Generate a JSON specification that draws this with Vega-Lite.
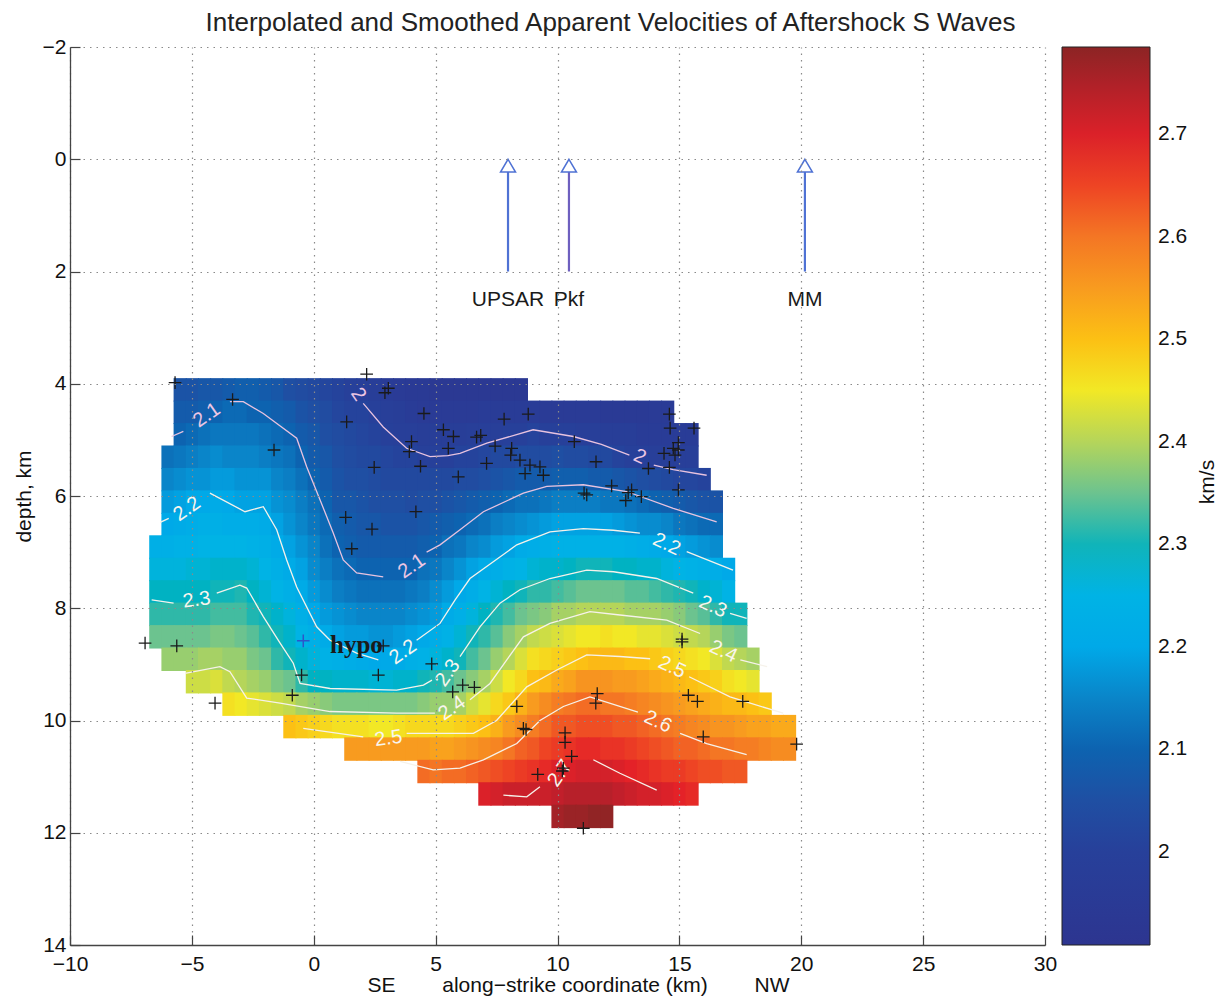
{
"$schema":"https://vega.github.io/schema/vega-lite/v6.json",
"width":975,"height":898,
"autosize":{"type":"none"},
"padding":{"left":70,"top":47,"right":178,"bottom":57},
"background":"white",
"title":{"text":"Interpolated and Smoothed Apparent Velocities of Aftershock S Waves","fontSize":26,"font":"Liberation Sans","fontWeight":"normal","color":"#222","anchor":"middle","dx":53,"offset":0},
"config":{"font":"Liberation Sans","view":{"stroke":null}},
"datasets":{
"cells":[
{"x":-5.5,"y":4.1,"v":2.06},{"x":-5,"y":4.1,"v":2.06},{"x":-4.5,"y":4.1,"v":2.07},{"x":-4,"y":4.1,"v":2.07},{"x":-3.5,"y":4.1,"v":2.08},{"x":-3,"y":4.1,"v":2.09},{"x":-2.5,"y":4.1,"v":2.09},{"x":-2,"y":4.1,"v":2.08},{"x":-1.5,"y":4.1,"v":2.07},{"x":-1,"y":4.1,"v":2.05},{"x":-0.5,"y":4.1,"v":2.04},{"x":0,"y":4.1,"v":2.03},{"x":0.5,"y":4.1,"v":2.02},{"x":1,"y":4.1,"v":2.01},{"x":1.5,"y":4.1,"v":2.0},{"x":2,"y":4.1,"v":1.99},{"x":2.5,"y":4.1,"v":1.98},{"x":3,"y":4.1,"v":1.97},{"x":3.5,"y":4.1,"v":1.96},{"x":4,"y":4.1,"v":1.95},{"x":4.5,"y":4.1,"v":1.95},{"x":5,"y":4.1,"v":1.94},{"x":5.5,"y":4.1,"v":1.94},{"x":6,"y":4.1,"v":1.94},{"x":6.5,"y":4.1,"v":1.94},{"x":7,"y":4.1,"v":1.94},{"x":7.5,"y":4.1,"v":1.94},{"x":8,"y":4.1,"v":1.94},{"x":8.5,"y":4.1,"v":1.94},
{"x":-5.5,"y":4.5,"v":2.08},{"x":-5,"y":4.5,"v":2.08},{"x":-4.5,"y":4.5,"v":2.09},{"x":-4,"y":4.5,"v":2.1},{"x":-3.5,"y":4.5,"v":2.11},{"x":-3,"y":4.5,"v":2.11},{"x":-2.5,"y":4.5,"v":2.1},{"x":-2,"y":4.5,"v":2.1},{"x":-1.5,"y":4.5,"v":2.09},{"x":-1,"y":4.5,"v":2.08},{"x":-0.5,"y":4.5,"v":2.06},{"x":0,"y":4.5,"v":2.05},{"x":0.5,"y":4.5,"v":2.04},{"x":1,"y":4.5,"v":2.02},{"x":1.5,"y":4.5,"v":2.01},{"x":2,"y":4.5,"v":2.01},{"x":2.5,"y":4.5,"v":2.0},{"x":3,"y":4.5,"v":1.99},{"x":3.5,"y":4.5,"v":1.98},{"x":4,"y":4.5,"v":1.97},{"x":4.5,"y":4.5,"v":1.96},{"x":5,"y":4.5,"v":1.96},{"x":5.5,"y":4.5,"v":1.96},{"x":6,"y":4.5,"v":1.96},{"x":6.5,"y":4.5,"v":1.96},{"x":7,"y":4.5,"v":1.97},{"x":7.5,"y":4.5,"v":1.97},{"x":8,"y":4.5,"v":1.97},{"x":8.5,"y":4.5,"v":1.97},{"x":9,"y":4.5,"v":1.97},{"x":9.5,"y":4.5,"v":1.96},{"x":10,"y":4.5,"v":1.96},{"x":10.5,"y":4.5,"v":1.96},{"x":11,"y":4.5,"v":1.96},{"x":11.5,"y":4.5,"v":1.96},{"x":12,"y":4.5,"v":1.95},{"x":12.5,"y":4.5,"v":1.95},{"x":13,"y":4.5,"v":1.95},{"x":13.5,"y":4.5,"v":1.95},{"x":14,"y":4.5,"v":1.96},{"x":14.5,"y":4.5,"v":1.96},
{"x":-5.5,"y":4.9,"v":2.1},{"x":-5,"y":4.9,"v":2.11},{"x":-4.5,"y":4.9,"v":2.12},{"x":-4,"y":4.9,"v":2.13},{"x":-3.5,"y":4.9,"v":2.13},{"x":-3,"y":4.9,"v":2.13},{"x":-2.5,"y":4.9,"v":2.13},{"x":-2,"y":4.9,"v":2.12},{"x":-1.5,"y":4.9,"v":2.11},{"x":-1,"y":4.9,"v":2.1},{"x":-0.5,"y":4.9,"v":2.08},{"x":0,"y":4.9,"v":2.07},{"x":0.5,"y":4.9,"v":2.05},{"x":1,"y":4.9,"v":2.04},{"x":1.5,"y":4.9,"v":2.03},{"x":2,"y":4.9,"v":2.02},{"x":2.5,"y":4.9,"v":2.01},{"x":3,"y":4.9,"v":2.0},{"x":3.5,"y":4.9,"v":1.99},{"x":4,"y":4.9,"v":1.99},{"x":4.5,"y":4.9,"v":1.98},{"x":5,"y":4.9,"v":1.98},{"x":5.5,"y":4.9,"v":1.98},{"x":6,"y":4.9,"v":1.98},{"x":6.5,"y":4.9,"v":1.99},{"x":7,"y":4.9,"v":1.99},{"x":7.5,"y":4.9,"v":1.99},{"x":8,"y":4.9,"v":2.0},{"x":8.5,"y":4.9,"v":2.0},{"x":9,"y":4.9,"v":2.01},{"x":9.5,"y":4.9,"v":2.0},{"x":10,"y":4.9,"v":2.0},{"x":10.5,"y":4.9,"v":2.0},{"x":11,"y":4.9,"v":1.99},{"x":11.5,"y":4.9,"v":1.99},{"x":12,"y":4.9,"v":1.98},{"x":12.5,"y":4.9,"v":1.98},{"x":13,"y":4.9,"v":1.98},{"x":13.5,"y":4.9,"v":1.97},{"x":14,"y":4.9,"v":1.97},{"x":14.5,"y":4.9,"v":1.97},{"x":15,"y":4.9,"v":1.97},{"x":15.5,"y":4.9,"v":1.97},
{"x":-6,"y":5.3,"v":2.12},{"x":-5.5,"y":5.3,"v":2.13},{"x":-5,"y":5.3,"v":2.14},{"x":-4.5,"y":5.3,"v":2.15},{"x":-4,"y":5.3,"v":2.16},{"x":-3.5,"y":5.3,"v":2.15},{"x":-3,"y":5.3,"v":2.15},{"x":-2.5,"y":5.3,"v":2.15},{"x":-2,"y":5.3,"v":2.14},{"x":-1.5,"y":5.3,"v":2.13},{"x":-1,"y":5.3,"v":2.12},{"x":-0.5,"y":5.3,"v":2.1},{"x":0,"y":5.3,"v":2.08},{"x":0.5,"y":5.3,"v":2.07},{"x":1,"y":5.3,"v":2.05},{"x":1.5,"y":5.3,"v":2.04},{"x":2,"y":5.3,"v":2.03},{"x":2.5,"y":5.3,"v":2.03},{"x":3,"y":5.3,"v":2.02},{"x":3.5,"y":5.3,"v":2.01},{"x":4,"y":5.3,"v":2.01},{"x":4.5,"y":5.3,"v":2.0},{"x":5,"y":5.3,"v":2.0},{"x":5.5,"y":5.3,"v":2.0},{"x":6,"y":5.3,"v":2.01},{"x":6.5,"y":5.3,"v":2.01},{"x":7,"y":5.3,"v":2.02},{"x":7.5,"y":5.3,"v":2.03},{"x":8,"y":5.3,"v":2.03},{"x":8.5,"y":5.3,"v":2.04},{"x":9,"y":5.3,"v":2.04},{"x":9.5,"y":5.3,"v":2.04},{"x":10,"y":5.3,"v":2.05},{"x":10.5,"y":5.3,"v":2.04},{"x":11,"y":5.3,"v":2.04},{"x":11.5,"y":5.3,"v":2.03},{"x":12,"y":5.3,"v":2.03},{"x":12.5,"y":5.3,"v":2.01},{"x":13,"y":5.3,"v":2.0},{"x":13.5,"y":5.3,"v":2.0},{"x":14,"y":5.3,"v":1.99},{"x":14.5,"y":5.3,"v":1.99},{"x":15,"y":5.3,"v":1.99},{"x":15.5,"y":5.3,"v":1.99},
{"x":-6,"y":5.7,"v":2.15},{"x":-5.5,"y":5.7,"v":2.16},{"x":-5,"y":5.7,"v":2.17},{"x":-4.5,"y":5.7,"v":2.17},{"x":-4,"y":5.7,"v":2.18},{"x":-3.5,"y":5.7,"v":2.18},{"x":-3,"y":5.7,"v":2.17},{"x":-2.5,"y":5.7,"v":2.17},{"x":-2,"y":5.7,"v":2.17},{"x":-1.5,"y":5.7,"v":2.15},{"x":-1,"y":5.7,"v":2.14},{"x":-0.5,"y":5.7,"v":2.12},{"x":0,"y":5.7,"v":2.1},{"x":0.5,"y":5.7,"v":2.08},{"x":1,"y":5.7,"v":2.06},{"x":1.5,"y":5.7,"v":2.05},{"x":2,"y":5.7,"v":2.05},{"x":2.5,"y":5.7,"v":2.04},{"x":3,"y":5.7,"v":2.03},{"x":3.5,"y":5.7,"v":2.03},{"x":4,"y":5.7,"v":2.03},{"x":4.5,"y":5.7,"v":2.03},{"x":5,"y":5.7,"v":2.03},{"x":5.5,"y":5.7,"v":2.03},{"x":6,"y":5.7,"v":2.04},{"x":6.5,"y":5.7,"v":2.04},{"x":7,"y":5.7,"v":2.05},{"x":7.5,"y":5.7,"v":2.06},{"x":8,"y":5.7,"v":2.07},{"x":8.5,"y":5.7,"v":2.08},{"x":9,"y":5.7,"v":2.08},{"x":9.5,"y":5.7,"v":2.08},{"x":10,"y":5.7,"v":2.09},{"x":10.5,"y":5.7,"v":2.09},{"x":11,"y":5.7,"v":2.09},{"x":11.5,"y":5.7,"v":2.08},{"x":12,"y":5.7,"v":2.08},{"x":12.5,"y":5.7,"v":2.07},{"x":13,"y":5.7,"v":2.06},{"x":13.5,"y":5.7,"v":2.05},{"x":14,"y":5.7,"v":2.04},{"x":14.5,"y":5.7,"v":2.03},{"x":15,"y":5.7,"v":2.02},{"x":15.5,"y":5.7,"v":2.02},{"x":16,"y":5.7,"v":2.01},
{"x":-6,"y":6.1,"v":2.18},{"x":-5.5,"y":6.1,"v":2.19},{"x":-5,"y":6.1,"v":2.2},{"x":-4.5,"y":6.1,"v":2.2},{"x":-4,"y":6.1,"v":2.21},{"x":-3.5,"y":6.1,"v":2.2},{"x":-3,"y":6.1,"v":2.19},{"x":-2.5,"y":6.1,"v":2.19},{"x":-2,"y":6.1,"v":2.19},{"x":-1.5,"y":6.1,"v":2.17},{"x":-1,"y":6.1,"v":2.16},{"x":-0.5,"y":6.1,"v":2.14},{"x":0,"y":6.1,"v":2.12},{"x":0.5,"y":6.1,"v":2.1},{"x":1,"y":6.1,"v":2.07},{"x":1.5,"y":6.1,"v":2.07},{"x":2,"y":6.1,"v":2.06},{"x":2.5,"y":6.1,"v":2.05},{"x":3,"y":6.1,"v":2.05},{"x":3.5,"y":6.1,"v":2.05},{"x":4,"y":6.1,"v":2.04},{"x":4.5,"y":6.1,"v":2.05},{"x":5,"y":6.1,"v":2.05},{"x":5.5,"y":6.1,"v":2.06},{"x":6,"y":6.1,"v":2.07},{"x":6.5,"y":6.1,"v":2.08},{"x":7,"y":6.1,"v":2.09},{"x":7.5,"y":6.1,"v":2.1},{"x":8,"y":6.1,"v":2.11},{"x":8.5,"y":6.1,"v":2.12},{"x":9,"y":6.1,"v":2.12},{"x":9.5,"y":6.1,"v":2.13},{"x":10,"y":6.1,"v":2.14},{"x":10.5,"y":6.1,"v":2.14},{"x":11,"y":6.1,"v":2.14},{"x":11.5,"y":6.1,"v":2.14},{"x":12,"y":6.1,"v":2.13},{"x":12.5,"y":6.1,"v":2.13},{"x":13,"y":6.1,"v":2.12},{"x":13.5,"y":6.1,"v":2.11},{"x":14,"y":6.1,"v":2.1},{"x":14.5,"y":6.1,"v":2.09},{"x":15,"y":6.1,"v":2.08},{"x":15.5,"y":6.1,"v":2.07},{"x":16,"y":6.1,"v":2.06},{"x":16.5,"y":6.1,"v":2.06},
{"x":-6,"y":6.5,"v":2.2},{"x":-5.5,"y":6.5,"v":2.21},{"x":-5,"y":6.5,"v":2.22},{"x":-4.5,"y":6.5,"v":2.23},{"x":-4,"y":6.5,"v":2.23},{"x":-3.5,"y":6.5,"v":2.22},{"x":-3,"y":6.5,"v":2.22},{"x":-2.5,"y":6.5,"v":2.22},{"x":-2,"y":6.5,"v":2.21},{"x":-1.5,"y":6.5,"v":2.19},{"x":-1,"y":6.5,"v":2.17},{"x":-0.5,"y":6.5,"v":2.15},{"x":0,"y":6.5,"v":2.13},{"x":0.5,"y":6.5,"v":2.11},{"x":1,"y":6.5,"v":2.09},{"x":1.5,"y":6.5,"v":2.08},{"x":2,"y":6.5,"v":2.07},{"x":2.5,"y":6.5,"v":2.07},{"x":3,"y":6.5,"v":2.06},{"x":3.5,"y":6.5,"v":2.06},{"x":4,"y":6.5,"v":2.06},{"x":4.5,"y":6.5,"v":2.07},{"x":5,"y":6.5,"v":2.08},{"x":5.5,"y":6.5,"v":2.09},{"x":6,"y":6.5,"v":2.1},{"x":6.5,"y":6.5,"v":2.11},{"x":7,"y":6.5,"v":2.12},{"x":7.5,"y":6.5,"v":2.14},{"x":8,"y":6.5,"v":2.15},{"x":8.5,"y":6.5,"v":2.16},{"x":9,"y":6.5,"v":2.17},{"x":9.5,"y":6.5,"v":2.18},{"x":10,"y":6.5,"v":2.19},{"x":10.5,"y":6.5,"v":2.19},{"x":11,"y":6.5,"v":2.19},{"x":11.5,"y":6.5,"v":2.19},{"x":12,"y":6.5,"v":2.19},{"x":12.5,"y":6.5,"v":2.18},{"x":13,"y":6.5,"v":2.17},{"x":13.5,"y":6.5,"v":2.16},{"x":14,"y":6.5,"v":2.16},{"x":14.5,"y":6.5,"v":2.15},{"x":15,"y":6.5,"v":2.13},{"x":15.5,"y":6.5,"v":2.12},{"x":16,"y":6.5,"v":2.11},{"x":16.5,"y":6.5,"v":2.11},
{"x":-6.5,"y":6.9,"v":2.23},{"x":-6,"y":6.9,"v":2.23},{"x":-5.5,"y":6.9,"v":2.24},{"x":-5,"y":6.9,"v":2.24},{"x":-4.5,"y":6.9,"v":2.25},{"x":-4,"y":6.9,"v":2.25},{"x":-3.5,"y":6.9,"v":2.25},{"x":-3,"y":6.9,"v":2.25},{"x":-2.5,"y":6.9,"v":2.24},{"x":-2,"y":6.9,"v":2.23},{"x":-1.5,"y":6.9,"v":2.21},{"x":-1,"y":6.9,"v":2.19},{"x":-0.5,"y":6.9,"v":2.17},{"x":0,"y":6.9,"v":2.15},{"x":0.5,"y":6.9,"v":2.12},{"x":1,"y":6.9,"v":2.1},{"x":1.5,"y":6.9,"v":2.09},{"x":2,"y":6.9,"v":2.08},{"x":2.5,"y":6.9,"v":2.08},{"x":3,"y":6.9,"v":2.08},{"x":3.5,"y":6.9,"v":2.08},{"x":4,"y":6.9,"v":2.08},{"x":4.5,"y":6.9,"v":2.09},{"x":5,"y":6.9,"v":2.1},{"x":5.5,"y":6.9,"v":2.12},{"x":6,"y":6.9,"v":2.13},{"x":6.5,"y":6.9,"v":2.15},{"x":7,"y":6.9,"v":2.16},{"x":7.5,"y":6.9,"v":2.18},{"x":8,"y":6.9,"v":2.19},{"x":8.5,"y":6.9,"v":2.21},{"x":9,"y":6.9,"v":2.22},{"x":9.5,"y":6.9,"v":2.23},{"x":10,"y":6.9,"v":2.24},{"x":10.5,"y":6.9,"v":2.24},{"x":11,"y":6.9,"v":2.24},{"x":11.5,"y":6.9,"v":2.24},{"x":12,"y":6.9,"v":2.24},{"x":12.5,"y":6.9,"v":2.24},{"x":13,"y":6.9,"v":2.23},{"x":13.5,"y":6.9,"v":2.22},{"x":14,"y":6.9,"v":2.21},{"x":14.5,"y":6.9,"v":2.2},{"x":15,"y":6.9,"v":2.19},{"x":15.5,"y":6.9,"v":2.18},{"x":16,"y":6.9,"v":2.17},{"x":16.5,"y":6.9,"v":2.16},
{"x":-6.5,"y":7.3,"v":2.26},{"x":-6,"y":7.3,"v":2.26},{"x":-5.5,"y":7.3,"v":2.26},{"x":-5,"y":7.3,"v":2.27},{"x":-4.5,"y":7.3,"v":2.27},{"x":-4,"y":7.3,"v":2.28},{"x":-3.5,"y":7.3,"v":2.28},{"x":-3,"y":7.3,"v":2.28},{"x":-2.5,"y":7.3,"v":2.27},{"x":-2,"y":7.3,"v":2.25},{"x":-1.5,"y":7.3,"v":2.23},{"x":-1,"y":7.3,"v":2.21},{"x":-0.5,"y":7.3,"v":2.19},{"x":0,"y":7.3,"v":2.16},{"x":0.5,"y":7.3,"v":2.14},{"x":1,"y":7.3,"v":2.12},{"x":1.5,"y":7.3,"v":2.11},{"x":2,"y":7.3,"v":2.1},{"x":2.5,"y":7.3,"v":2.1},{"x":3,"y":7.3,"v":2.1},{"x":3.5,"y":7.3,"v":2.1},{"x":4,"y":7.3,"v":2.1},{"x":4.5,"y":7.3,"v":2.12},{"x":5,"y":7.3,"v":2.13},{"x":5.5,"y":7.3,"v":2.15},{"x":6,"y":7.3,"v":2.17},{"x":6.5,"y":7.3,"v":2.19},{"x":7,"y":7.3,"v":2.21},{"x":7.5,"y":7.3,"v":2.22},{"x":8,"y":7.3,"v":2.24},{"x":8.5,"y":7.3,"v":2.25},{"x":9,"y":7.3,"v":2.27},{"x":9.5,"y":7.3,"v":2.28},{"x":10,"y":7.3,"v":2.28},{"x":10.5,"y":7.3,"v":2.29},{"x":11,"y":7.3,"v":2.3},{"x":11.5,"y":7.3,"v":2.3},{"x":12,"y":7.3,"v":2.3},{"x":12.5,"y":7.3,"v":2.29},{"x":13,"y":7.3,"v":2.29},{"x":13.5,"y":7.3,"v":2.28},{"x":14,"y":7.3,"v":2.28},{"x":14.5,"y":7.3,"v":2.26},{"x":15,"y":7.3,"v":2.25},{"x":15.5,"y":7.3,"v":2.24},{"x":16,"y":7.3,"v":2.23},{"x":16.5,"y":7.3,"v":2.22},{"x":17,"y":7.3,"v":2.2},
{"x":-6.5,"y":7.7,"v":2.29},{"x":-6,"y":7.7,"v":2.29},{"x":-5.5,"y":7.7,"v":2.29},{"x":-5,"y":7.7,"v":2.29},{"x":-4.5,"y":7.7,"v":2.29},{"x":-4,"y":7.7,"v":2.3},{"x":-3.5,"y":7.7,"v":2.3},{"x":-3,"y":7.7,"v":2.31},{"x":-2.5,"y":7.7,"v":2.29},{"x":-2,"y":7.7,"v":2.27},{"x":-1.5,"y":7.7,"v":2.25},{"x":-1,"y":7.7,"v":2.23},{"x":-0.5,"y":7.7,"v":2.21},{"x":0,"y":7.7,"v":2.18},{"x":0.5,"y":7.7,"v":2.16},{"x":1,"y":7.7,"v":2.14},{"x":1.5,"y":7.7,"v":2.13},{"x":2,"y":7.7,"v":2.12},{"x":2.5,"y":7.7,"v":2.12},{"x":3,"y":7.7,"v":2.12},{"x":3.5,"y":7.7,"v":2.12},{"x":4,"y":7.7,"v":2.13},{"x":4.5,"y":7.7,"v":2.14},{"x":5,"y":7.7,"v":2.16},{"x":5.5,"y":7.7,"v":2.18},{"x":6,"y":7.7,"v":2.2},{"x":6.5,"y":7.7,"v":2.22},{"x":7,"y":7.7,"v":2.25},{"x":7.5,"y":7.7,"v":2.27},{"x":8,"y":7.7,"v":2.29},{"x":8.5,"y":7.7,"v":2.3},{"x":9,"y":7.7,"v":2.32},{"x":9.5,"y":7.7,"v":2.32},{"x":10,"y":7.7,"v":2.33},{"x":10.5,"y":7.7,"v":2.34},{"x":11,"y":7.7,"v":2.35},{"x":11.5,"y":7.7,"v":2.35},{"x":12,"y":7.7,"v":2.35},{"x":12.5,"y":7.7,"v":2.35},{"x":13,"y":7.7,"v":2.34},{"x":13.5,"y":7.7,"v":2.34},{"x":14,"y":7.7,"v":2.33},{"x":14.5,"y":7.7,"v":2.32},{"x":15,"y":7.7,"v":2.31},{"x":15.5,"y":7.7,"v":2.3},{"x":16,"y":7.7,"v":2.28},{"x":16.5,"y":7.7,"v":2.27},{"x":17,"y":7.7,"v":2.25},
{"x":-6.5,"y":8.1,"v":2.32},{"x":-6,"y":8.1,"v":2.32},{"x":-5.5,"y":8.1,"v":2.32},{"x":-5,"y":8.1,"v":2.32},{"x":-4.5,"y":8.1,"v":2.32},{"x":-4,"y":8.1,"v":2.33},{"x":-3.5,"y":8.1,"v":2.33},{"x":-3,"y":8.1,"v":2.33},{"x":-2.5,"y":8.1,"v":2.31},{"x":-2,"y":8.1,"v":2.3},{"x":-1.5,"y":8.1,"v":2.28},{"x":-1,"y":8.1,"v":2.26},{"x":-0.5,"y":8.1,"v":2.23},{"x":0,"y":8.1,"v":2.2},{"x":0.5,"y":8.1,"v":2.18},{"x":1,"y":8.1,"v":2.17},{"x":1.5,"y":8.1,"v":2.16},{"x":2,"y":8.1,"v":2.15},{"x":2.5,"y":8.1,"v":2.15},{"x":3,"y":8.1,"v":2.15},{"x":3.5,"y":8.1,"v":2.15},{"x":4,"y":8.1,"v":2.16},{"x":4.5,"y":8.1,"v":2.17},{"x":5,"y":8.1,"v":2.18},{"x":5.5,"y":8.1,"v":2.21},{"x":6,"y":8.1,"v":2.23},{"x":6.5,"y":8.1,"v":2.26},{"x":7,"y":8.1,"v":2.29},{"x":7.5,"y":8.1,"v":2.31},{"x":8,"y":8.1,"v":2.33},{"x":8.5,"y":8.1,"v":2.35},{"x":9,"y":8.1,"v":2.36},{"x":9.5,"y":8.1,"v":2.37},{"x":10,"y":8.1,"v":2.39},{"x":10.5,"y":8.1,"v":2.39},{"x":11,"y":8.1,"v":2.4},{"x":11.5,"y":8.1,"v":2.4},{"x":12,"y":8.1,"v":2.4},{"x":12.5,"y":8.1,"v":2.4},{"x":13,"y":8.1,"v":2.39},{"x":13.5,"y":8.1,"v":2.39},{"x":14,"y":8.1,"v":2.39},{"x":14.5,"y":8.1,"v":2.38},{"x":15,"y":8.1,"v":2.37},{"x":15.5,"y":8.1,"v":2.35},{"x":16,"y":8.1,"v":2.34},{"x":16.5,"y":8.1,"v":2.32},{"x":17,"y":8.1,"v":2.3},{"x":17.5,"y":8.1,"v":2.3},
{"x":-6.5,"y":8.5,"v":2.35},{"x":-6,"y":8.5,"v":2.35},{"x":-5.5,"y":8.5,"v":2.35},{"x":-5,"y":8.5,"v":2.35},{"x":-4.5,"y":8.5,"v":2.35},{"x":-4,"y":8.5,"v":2.36},{"x":-3.5,"y":8.5,"v":2.36},{"x":-3,"y":8.5,"v":2.35},{"x":-2.5,"y":8.5,"v":2.34},{"x":-2,"y":8.5,"v":2.32},{"x":-1.5,"y":8.5,"v":2.3},{"x":-1,"y":8.5,"v":2.28},{"x":-0.5,"y":8.5,"v":2.25},{"x":0,"y":8.5,"v":2.23},{"x":0.5,"y":8.5,"v":2.21},{"x":1,"y":8.5,"v":2.19},{"x":1.5,"y":8.5,"v":2.18},{"x":2,"y":8.5,"v":2.18},{"x":2.5,"y":8.5,"v":2.17},{"x":3,"y":8.5,"v":2.17},{"x":3.5,"y":8.5,"v":2.18},{"x":4,"y":8.5,"v":2.19},{"x":4.5,"y":8.5,"v":2.2},{"x":5,"y":8.5,"v":2.22},{"x":5.5,"y":8.5,"v":2.24},{"x":6,"y":8.5,"v":2.27},{"x":6.5,"y":8.5,"v":2.3},{"x":7,"y":8.5,"v":2.32},{"x":7.5,"y":8.5,"v":2.34},{"x":8,"y":8.5,"v":2.37},{"x":8.5,"y":8.5,"v":2.39},{"x":9,"y":8.5,"v":2.41},{"x":9.5,"y":8.5,"v":2.42},{"x":10,"y":8.5,"v":2.43},{"x":10.5,"y":8.5,"v":2.44},{"x":11,"y":8.5,"v":2.45},{"x":11.5,"y":8.5,"v":2.45},{"x":12,"y":8.5,"v":2.46},{"x":12.5,"y":8.5,"v":2.45},{"x":13,"y":8.5,"v":2.45},{"x":13.5,"y":8.5,"v":2.44},{"x":14,"y":8.5,"v":2.44},{"x":14.5,"y":8.5,"v":2.43},{"x":15,"y":8.5,"v":2.42},{"x":15.5,"y":8.5,"v":2.41},{"x":16,"y":8.5,"v":2.4},{"x":16.5,"y":8.5,"v":2.38},{"x":17,"y":8.5,"v":2.36},{"x":17.5,"y":8.5,"v":2.35},
{"x":-6,"y":8.9,"v":2.38},{"x":-5.5,"y":8.9,"v":2.38},{"x":-5,"y":8.9,"v":2.38},{"x":-4.5,"y":8.9,"v":2.39},{"x":-4,"y":8.9,"v":2.39},{"x":-3.5,"y":8.9,"v":2.38},{"x":-3,"y":8.9,"v":2.38},{"x":-2.5,"y":8.9,"v":2.36},{"x":-2,"y":8.9,"v":2.35},{"x":-1.5,"y":8.9,"v":2.32},{"x":-1,"y":8.9,"v":2.3},{"x":-0.5,"y":8.9,"v":2.28},{"x":0,"y":8.9,"v":2.26},{"x":0.5,"y":8.9,"v":2.24},{"x":1,"y":8.9,"v":2.23},{"x":1.5,"y":8.9,"v":2.22},{"x":2,"y":8.9,"v":2.21},{"x":2.5,"y":8.9,"v":2.2},{"x":3,"y":8.9,"v":2.2},{"x":3.5,"y":8.9,"v":2.21},{"x":4,"y":8.9,"v":2.23},{"x":4.5,"y":8.9,"v":2.24},{"x":5,"y":8.9,"v":2.26},{"x":5.5,"y":8.9,"v":2.28},{"x":6,"y":8.9,"v":2.3},{"x":6.5,"y":8.9,"v":2.33},{"x":7,"y":8.9,"v":2.35},{"x":7.5,"y":8.9,"v":2.38},{"x":8,"y":8.9,"v":2.4},{"x":8.5,"y":8.9,"v":2.43},{"x":9,"y":8.9,"v":2.46},{"x":9.5,"y":8.9,"v":2.47},{"x":10,"y":8.9,"v":2.48},{"x":10.5,"y":8.9,"v":2.49},{"x":11,"y":8.9,"v":2.5},{"x":11.5,"y":8.9,"v":2.51},{"x":12,"y":8.9,"v":2.51},{"x":12.5,"y":8.9,"v":2.51},{"x":13,"y":8.9,"v":2.5},{"x":13.5,"y":8.9,"v":2.5},{"x":14,"y":8.9,"v":2.49},{"x":14.5,"y":8.9,"v":2.48},{"x":15,"y":8.9,"v":2.47},{"x":15.5,"y":8.9,"v":2.46},{"x":16,"y":8.9,"v":2.45},{"x":16.5,"y":8.9,"v":2.43},{"x":17,"y":8.9,"v":2.41},{"x":17.5,"y":8.9,"v":2.4},{"x":18,"y":8.9,"v":2.39},
{"x":-5,"y":9.3,"v":2.42},{"x":-4.5,"y":9.3,"v":2.42},{"x":-4,"y":9.3,"v":2.43},{"x":-3.5,"y":9.3,"v":2.41},{"x":-3,"y":9.3,"v":2.4},{"x":-2.5,"y":9.3,"v":2.39},{"x":-2,"y":9.3,"v":2.38},{"x":-1.5,"y":9.3,"v":2.36},{"x":-1,"y":9.3,"v":2.35},{"x":-0.5,"y":9.3,"v":2.32},{"x":0,"y":9.3,"v":2.29},{"x":0.5,"y":9.3,"v":2.29},{"x":1,"y":9.3,"v":2.28},{"x":1.5,"y":9.3,"v":2.28},{"x":2,"y":9.3,"v":2.28},{"x":2.5,"y":9.3,"v":2.27},{"x":3,"y":9.3,"v":2.27},{"x":3.5,"y":9.3,"v":2.28},{"x":4,"y":9.3,"v":2.28},{"x":4.5,"y":9.3,"v":2.3},{"x":5,"y":9.3,"v":2.31},{"x":5.5,"y":9.3,"v":2.33},{"x":6,"y":9.3,"v":2.35},{"x":6.5,"y":9.3,"v":2.37},{"x":7,"y":9.3,"v":2.39},{"x":7.5,"y":9.3,"v":2.42},{"x":8,"y":9.3,"v":2.45},{"x":8.5,"y":9.3,"v":2.47},{"x":9,"y":9.3,"v":2.5},{"x":9.5,"y":9.3,"v":2.51},{"x":10,"y":9.3,"v":2.53},{"x":10.5,"y":9.3,"v":2.54},{"x":11,"y":9.3,"v":2.56},{"x":11.5,"y":9.3,"v":2.56},{"x":12,"y":9.3,"v":2.56},{"x":12.5,"y":9.3,"v":2.55},{"x":13,"y":9.3,"v":2.55},{"x":13.5,"y":9.3,"v":2.54},{"x":14,"y":9.3,"v":2.53},{"x":14.5,"y":9.3,"v":2.52},{"x":15,"y":9.3,"v":2.51},{"x":15.5,"y":9.3,"v":2.5},{"x":16,"y":9.3,"v":2.49},{"x":16.5,"y":9.3,"v":2.48},{"x":17,"y":9.3,"v":2.46},{"x":17.5,"y":9.3,"v":2.45},{"x":18,"y":9.3,"v":2.44},
{"x":-3.5,"y":9.7,"v":2.46},{"x":-3,"y":9.7,"v":2.45},{"x":-2.5,"y":9.7,"v":2.44},{"x":-2,"y":9.7,"v":2.43},{"x":-1.5,"y":9.7,"v":2.42},{"x":-1,"y":9.7,"v":2.41},{"x":-0.5,"y":9.7,"v":2.39},{"x":0,"y":9.7,"v":2.38},{"x":0.5,"y":9.7,"v":2.37},{"x":1,"y":9.7,"v":2.36},{"x":1.5,"y":9.7,"v":2.36},{"x":2,"y":9.7,"v":2.36},{"x":2.5,"y":9.7,"v":2.36},{"x":3,"y":9.7,"v":2.36},{"x":3.5,"y":9.7,"v":2.36},{"x":4,"y":9.7,"v":2.36},{"x":4.5,"y":9.7,"v":2.37},{"x":5,"y":9.7,"v":2.38},{"x":5.5,"y":9.7,"v":2.38},{"x":6,"y":9.7,"v":2.39},{"x":6.5,"y":9.7,"v":2.42},{"x":7,"y":9.7,"v":2.44},{"x":7.5,"y":9.7,"v":2.47},{"x":8,"y":9.7,"v":2.49},{"x":8.5,"y":9.7,"v":2.52},{"x":9,"y":9.7,"v":2.55},{"x":9.5,"y":9.7,"v":2.57},{"x":10,"y":9.7,"v":2.59},{"x":10.5,"y":9.7,"v":2.6},{"x":11,"y":9.7,"v":2.61},{"x":11.5,"y":9.7,"v":2.61},{"x":12,"y":9.7,"v":2.6},{"x":12.5,"y":9.7,"v":2.6},{"x":13,"y":9.7,"v":2.59},{"x":13.5,"y":9.7,"v":2.58},{"x":14,"y":9.7,"v":2.57},{"x":14.5,"y":9.7,"v":2.56},{"x":15,"y":9.7,"v":2.55},{"x":15.5,"y":9.7,"v":2.54},{"x":16,"y":9.7,"v":2.53},{"x":16.5,"y":9.7,"v":2.52},{"x":17,"y":9.7,"v":2.51},{"x":17.5,"y":9.7,"v":2.51},{"x":18,"y":9.7,"v":2.5},{"x":18.5,"y":9.7,"v":2.49},
{"x":-1,"y":10.1,"v":2.5},{"x":-0.5,"y":10.1,"v":2.49},{"x":0,"y":10.1,"v":2.48},{"x":0.5,"y":10.1,"v":2.47},{"x":1,"y":10.1,"v":2.46},{"x":1.5,"y":10.1,"v":2.46},{"x":2,"y":10.1,"v":2.46},{"x":2.5,"y":10.1,"v":2.45},{"x":3,"y":10.1,"v":2.45},{"x":3.5,"y":10.1,"v":2.46},{"x":4,"y":10.1,"v":2.47},{"x":4.5,"y":10.1,"v":2.47},{"x":5,"y":10.1,"v":2.47},{"x":5.5,"y":10.1,"v":2.47},{"x":6,"y":10.1,"v":2.48},{"x":6.5,"y":10.1,"v":2.49},{"x":7,"y":10.1,"v":2.5},{"x":7.5,"y":10.1,"v":2.52},{"x":8,"y":10.1,"v":2.55},{"x":8.5,"y":10.1,"v":2.57},{"x":9,"y":10.1,"v":2.59},{"x":9.5,"y":10.1,"v":2.61},{"x":10,"y":10.1,"v":2.63},{"x":10.5,"y":10.1,"v":2.63},{"x":11,"y":10.1,"v":2.64},{"x":11.5,"y":10.1,"v":2.64},{"x":12,"y":10.1,"v":2.64},{"x":12.5,"y":10.1,"v":2.63},{"x":13,"y":10.1,"v":2.63},{"x":13.5,"y":10.1,"v":2.62},{"x":14,"y":10.1,"v":2.61},{"x":14.5,"y":10.1,"v":2.6},{"x":15,"y":10.1,"v":2.59},{"x":15.5,"y":10.1,"v":2.58},{"x":16,"y":10.1,"v":2.57},{"x":16.5,"y":10.1,"v":2.56},{"x":17,"y":10.1,"v":2.56},{"x":17.5,"y":10.1,"v":2.55},{"x":18,"y":10.1,"v":2.54},{"x":18.5,"y":10.1,"v":2.54},{"x":19,"y":10.1,"v":2.53},{"x":19.5,"y":10.1,"v":2.53},
{"x":1.5,"y":10.5,"v":2.55},{"x":2,"y":10.5,"v":2.55},{"x":2.5,"y":10.5,"v":2.55},{"x":3,"y":10.5,"v":2.55},{"x":3.5,"y":10.5,"v":2.55},{"x":4,"y":10.5,"v":2.55},{"x":4.5,"y":10.5,"v":2.55},{"x":5,"y":10.5,"v":2.54},{"x":5.5,"y":10.5,"v":2.54},{"x":6,"y":10.5,"v":2.55},{"x":6.5,"y":10.5,"v":2.56},{"x":7,"y":10.5,"v":2.57},{"x":7.5,"y":10.5,"v":2.58},{"x":8,"y":10.5,"v":2.6},{"x":8.5,"y":10.5,"v":2.62},{"x":9,"y":10.5,"v":2.63},{"x":9.5,"y":10.5,"v":2.65},{"x":10,"y":10.5,"v":2.66},{"x":10.5,"y":10.5,"v":2.67},{"x":11,"y":10.5,"v":2.68},{"x":11.5,"y":10.5,"v":2.68},{"x":12,"y":10.5,"v":2.67},{"x":12.5,"y":10.5,"v":2.67},{"x":13,"y":10.5,"v":2.66},{"x":13.5,"y":10.5,"v":2.65},{"x":14,"y":10.5,"v":2.64},{"x":14.5,"y":10.5,"v":2.63},{"x":15,"y":10.5,"v":2.62},{"x":15.5,"y":10.5,"v":2.62},{"x":16,"y":10.5,"v":2.61},{"x":16.5,"y":10.5,"v":2.6},{"x":17,"y":10.5,"v":2.6},{"x":17.5,"y":10.5,"v":2.59},{"x":18,"y":10.5,"v":2.59},{"x":18.5,"y":10.5,"v":2.58},{"x":19,"y":10.5,"v":2.57},{"x":19.5,"y":10.5,"v":2.57},
{"x":4.5,"y":10.9,"v":2.61},{"x":5,"y":10.9,"v":2.6},{"x":5.5,"y":10.9,"v":2.61},{"x":6,"y":10.9,"v":2.61},{"x":6.5,"y":10.9,"v":2.62},{"x":7,"y":10.9,"v":2.63},{"x":7.5,"y":10.9,"v":2.64},{"x":8,"y":10.9,"v":2.65},{"x":8.5,"y":10.9,"v":2.66},{"x":9,"y":10.9,"v":2.67},{"x":9.5,"y":10.9,"v":2.68},{"x":10,"y":10.9,"v":2.7},{"x":10.5,"y":10.9,"v":2.7},{"x":11,"y":10.9,"v":2.71},{"x":11.5,"y":10.9,"v":2.71},{"x":12,"y":10.9,"v":2.71},{"x":12.5,"y":10.9,"v":2.7},{"x":13,"y":10.9,"v":2.69},{"x":13.5,"y":10.9,"v":2.68},{"x":14,"y":10.9,"v":2.67},{"x":14.5,"y":10.9,"v":2.66},{"x":15,"y":10.9,"v":2.66},{"x":15.5,"y":10.9,"v":2.65},{"x":16,"y":10.9,"v":2.64},{"x":16.5,"y":10.9,"v":2.64},{"x":17,"y":10.9,"v":2.63},{"x":17.5,"y":10.9,"v":2.63},
{"x":7,"y":11.3,"v":2.7},{"x":7.5,"y":11.3,"v":2.71},{"x":8,"y":11.3,"v":2.72},{"x":8.5,"y":11.3,"v":2.72},{"x":9,"y":11.3,"v":2.72},{"x":9.5,"y":11.3,"v":2.72},{"x":10,"y":11.3,"v":2.73},{"x":10.5,"y":11.3,"v":2.74},{"x":11,"y":11.3,"v":2.74},{"x":11.5,"y":11.3,"v":2.74},{"x":12,"y":11.3,"v":2.74},{"x":12.5,"y":11.3,"v":2.73},{"x":13,"y":11.3,"v":2.72},{"x":13.5,"y":11.3,"v":2.71},{"x":14,"y":11.3,"v":2.71},{"x":14.5,"y":11.3,"v":2.7},{"x":15,"y":11.3,"v":2.69},{"x":15.5,"y":11.3,"v":2.68},
{"x":10,"y":11.7,"v":2.76},{"x":10.5,"y":11.7,"v":2.77},{"x":11,"y":11.7,"v":2.77},{"x":11.5,"y":11.7,"v":2.78},{"x":12,"y":11.7,"v":2.78}
],
"contours":[
{"lev":2.0,"seg":"0a","x":2.03,"y":4.35},{"lev":2.0,"seg":"0a","x":2.85,"y":4.77},{"lev":2.0,"seg":"0a","x":3.81,"y":5.15},{"lev":2.0,"seg":"0a","x":4.77,"y":5.3},{"lev":2.0,"seg":"0a","x":5.5,"y":5.28},{"lev":2.0,"seg":"0a","x":6.0,"y":5.24},{"lev":2.0,"seg":"0a","x":7.1,"y":5.06},{"lev":2.0,"seg":"0a","x":9.0,"y":4.82},{"lev":2.0,"seg":"0a","x":10.65,"y":4.94},{"lev":2.0,"seg":"0a","x":11.8,"y":5.08},{"lev":2.0,"seg":"0a","x":12.95,"y":5.27},
{"lev":2.0,"seg":"0b","x":13.95,"y":5.45},{"lev":2.0,"seg":"0b","x":14.75,"y":5.53},{"lev":2.0,"seg":"0b","x":16.12,"y":5.63},
{"lev":2.1,"seg":"1a","x":-5.83,"y":4.94},{"lev":2.1,"seg":"1a","x":-5.35,"y":4.85},
{"lev":2.1,"seg":"1b","x":-3.44,"y":4.32},{"lev":2.1,"seg":"1b","x":-2.89,"y":4.32},{"lev":2.1,"seg":"1b","x":-2.07,"y":4.53},{"lev":2.1,"seg":"1b","x":-0.7,"y":4.97},{"lev":2.1,"seg":"1b","x":-0.29,"y":5.48},{"lev":2.1,"seg":"1b","x":0.26,"y":6.07},{"lev":2.1,"seg":"1b","x":0.8,"y":6.66},{"lev":2.1,"seg":"1b","x":1.21,"y":7.14},{"lev":2.1,"seg":"1b","x":1.76,"y":7.37},{"lev":2.1,"seg":"1b","x":2.85,"y":7.44},
{"lev":2.1,"seg":"1c","x":4.63,"y":7.0},{"lev":2.1,"seg":"1c","x":5.18,"y":6.87},{"lev":2.1,"seg":"1c","x":6.0,"y":6.6},{"lev":2.1,"seg":"1c","x":6.96,"y":6.28},{"lev":2.1,"seg":"1c","x":8.6,"y":5.95},{"lev":2.1,"seg":"1c","x":9.56,"y":5.83},{"lev":2.1,"seg":"1c","x":11.06,"y":5.8},{"lev":2.1,"seg":"1c","x":12.84,"y":5.92},{"lev":2.1,"seg":"1c","x":14.75,"y":6.22},{"lev":2.1,"seg":"1c","x":16.53,"y":6.46},
{"lev":2.2,"seg":"2a","x":-6.3,"y":6.47},{"lev":2.2,"seg":"2a","x":-5.95,"y":6.4},
{"lev":2.2,"seg":"2b","x":-4.26,"y":5.95},{"lev":2.2,"seg":"2b","x":-2.82,"y":6.28},{"lev":2.2,"seg":"2b","x":-2.07,"y":6.19},{"lev":2.2,"seg":"2b","x":-1.52,"y":6.6},{"lev":2.2,"seg":"2b","x":-1.11,"y":7.14},{"lev":2.2,"seg":"2b","x":-0.7,"y":7.62},{"lev":2.2,"seg":"2b","x":0.12,"y":8.33},{"lev":2.2,"seg":"2b","x":0.67,"y":8.57},{"lev":2.2,"seg":"2b","x":1.76,"y":8.8},{"lev":2.2,"seg":"2b","x":2.65,"y":8.92},
{"lev":2.2,"seg":"2c","x":4.22,"y":8.57},{"lev":2.2,"seg":"2c","x":5.18,"y":8.27},{"lev":2.2,"seg":"2c","x":5.8,"y":7.85},{"lev":2.2,"seg":"2c","x":6.41,"y":7.47},{"lev":2.2,"seg":"2c","x":8.33,"y":6.87},{"lev":2.2,"seg":"2c","x":9.69,"y":6.64},{"lev":2.2,"seg":"2c","x":11.06,"y":6.58},{"lev":2.2,"seg":"2c","x":12.29,"y":6.61},{"lev":2.2,"seg":"2c","x":13.38,"y":6.66},
{"lev":2.2,"seg":"2d","x":15.3,"y":6.99},{"lev":2.2,"seg":"2d","x":17.2,"y":7.32},
{"lev":2.3,"seg":"3a","x":-6.65,"y":7.85},{"lev":2.3,"seg":"3a","x":-5.75,"y":7.91},
{"lev":2.3,"seg":"3b","x":-3.98,"y":7.73},{"lev":2.3,"seg":"3b","x":-3.03,"y":7.59},{"lev":2.3,"seg":"3b","x":-2.75,"y":7.64},{"lev":2.3,"seg":"3b","x":-2.07,"y":8.15},{"lev":2.3,"seg":"3b","x":-1.38,"y":8.62},{"lev":2.3,"seg":"3b","x":-0.84,"y":8.98},{"lev":2.3,"seg":"3b","x":-0.56,"y":9.34},{"lev":2.3,"seg":"3b","x":0.67,"y":9.43},{"lev":2.3,"seg":"3b","x":3.4,"y":9.46},{"lev":2.3,"seg":"3b","x":4.5,"y":9.37},{"lev":2.3,"seg":"3b","x":4.85,"y":9.28},
{"lev":2.3,"seg":"3c","x":6.0,"y":8.86},{"lev":2.3,"seg":"3c","x":6.82,"y":8.33},{"lev":2.3,"seg":"3c","x":7.64,"y":7.91},{"lev":2.3,"seg":"3c","x":8.46,"y":7.67},{"lev":2.3,"seg":"3c","x":9.69,"y":7.47},{"lev":2.3,"seg":"3c","x":11.2,"y":7.32},{"lev":2.3,"seg":"3c","x":12.3,"y":7.35},{"lev":2.3,"seg":"3c","x":14.07,"y":7.47},{"lev":2.3,"seg":"3c","x":15.57,"y":7.73},
{"lev":2.3,"seg":"3d","x":17.08,"y":8.09},{"lev":2.3,"seg":"3d","x":17.76,"y":8.18},
{"lev":2.4,"seg":"4a","x":-5.28,"y":9.16},{"lev":2.4,"seg":"4a","x":-3.85,"y":9.04},{"lev":2.4,"seg":"4a","x":-3.44,"y":9.13},{"lev":2.4,"seg":"4a","x":-2.75,"y":9.6},{"lev":2.4,"seg":"4a","x":-1.38,"y":9.69},{"lev":2.4,"seg":"4a","x":0.67,"y":9.84},{"lev":2.4,"seg":"4a","x":3.4,"y":9.87},{"lev":2.4,"seg":"4a","x":4.97,"y":9.87},
{"lev":2.4,"seg":"4b","x":6.41,"y":9.63},{"lev":2.4,"seg":"4b","x":7.23,"y":9.34},{"lev":2.4,"seg":"4b","x":7.92,"y":8.92},{"lev":2.4,"seg":"4b","x":8.6,"y":8.51},{"lev":2.4,"seg":"4b","x":9.69,"y":8.27},{"lev":2.4,"seg":"4b","x":11.33,"y":8.06},{"lev":2.4,"seg":"4b","x":12.56,"y":8.12},{"lev":2.4,"seg":"4b","x":14.48,"y":8.21},{"lev":2.4,"seg":"4b","x":15.85,"y":8.45},
{"lev":2.4,"seg":"4c","x":17.5,"y":8.92},{"lev":2.4,"seg":"4c","x":18.6,"y":9.04},
{"lev":2.5,"seg":"5a","x":-0.43,"y":10.14},{"lev":2.5,"seg":"5a","x":2.03,"y":10.29},
{"lev":2.5,"seg":"5b","x":3.81,"y":10.23},{"lev":2.5,"seg":"5b","x":5.18,"y":10.23},{"lev":2.5,"seg":"5b","x":6.55,"y":10.23},{"lev":2.5,"seg":"5b","x":7.5,"y":10.0},{"lev":2.5,"seg":"5b","x":8.74,"y":9.4},{"lev":2.5,"seg":"5b","x":9.97,"y":9.1},{"lev":2.5,"seg":"5b","x":11.2,"y":8.83},{"lev":2.5,"seg":"5b","x":12.56,"y":8.86},{"lev":2.5,"seg":"5b","x":13.8,"y":8.9},
{"lev":2.5,"seg":"5c","x":15.4,"y":9.22},{"lev":2.5,"seg":"5c","x":17.08,"y":9.58},{"lev":2.5,"seg":"5c","x":19.26,"y":9.87},
{"lev":2.6,"seg":"6a","x":3.54,"y":10.73},{"lev":2.6,"seg":"6a","x":4.9,"y":10.88},{"lev":2.6,"seg":"6a","x":6.0,"y":10.85},{"lev":2.6,"seg":"6a","x":6.96,"y":10.7},{"lev":2.6,"seg":"6a","x":8.33,"y":10.41},{"lev":2.6,"seg":"6a","x":9.28,"y":10.0},{"lev":2.6,"seg":"6a","x":10.24,"y":9.75},{"lev":2.6,"seg":"6a","x":11.33,"y":9.58},{"lev":2.6,"seg":"6a","x":13.3,"y":9.85},
{"lev":2.6,"seg":"6b","x":15.03,"y":10.23},{"lev":2.6,"seg":"6b","x":16.12,"y":10.41},{"lev":2.6,"seg":"6b","x":17.76,"y":10.61},
{"lev":2.7,"seg":"7a","x":7.78,"y":11.33},{"lev":2.7,"seg":"7a","x":8.74,"y":11.36},{"lev":2.7,"seg":"7a","x":9.28,"y":11.18},
{"lev":2.7,"seg":"7b","x":11.47,"y":10.7},{"lev":2.7,"seg":"7b","x":12.56,"y":10.94},{"lev":2.7,"seg":"7b","x":14.07,"y":11.24}
],
"quakes":[
{"x":-5.69,"y":3.98},{"x":-3.33,"y":4.28},{"x":2.17,"y":3.83},{"x":3.06,"y":4.08},{"x":2.92,"y":4.16},{"x":4.52,"y":4.53},{"x":1.35,"y":4.68},{"x":5.32,"y":4.82},{"x":5.73,"y":4.94},{"x":4.01,"y":5.03},{"x":3.92,"y":5.21},{"x":5.52,"y":5.15},{"x":5.93,"y":5.66},{"x":-1.63,"y":5.18},{"x":2.48,"y":5.49},{"x":4.38,"y":5.47},{"x":4.19,"y":6.28},{"x":1.31,"y":6.38},{"x":2.39,"y":6.59},{"x":1.56,"y":6.94},
{"x":6.68,"y":4.95},{"x":6.85,"y":4.92},{"x":7.81,"y":4.63},{"x":8.8,"y":4.54},{"x":7.44,"y":5.11},{"x":8.12,"y":5.15},{"x":8.08,"y":5.27},{"x":7.09,"y":5.42},{"x":8.46,"y":5.36},{"x":8.87,"y":5.45},{"x":9.28,"y":5.48},{"x":8.67,"y":5.6},{"x":9.42,"y":5.63},{"x":10.69,"y":5.03},{"x":11.58,"y":5.39},{"x":11.09,"y":5.95},{"x":11.2,"y":5.98},{"x":12.22,"y":5.82},{"x":13.04,"y":5.89},{"x":12.9,"y":5.94},{"x":12.8,"y":6.08},{"x":13.44,"y":6.01},{"x":13.73,"y":5.51},{"x":14.59,"y":4.54},{"x":14.62,"y":4.79},{"x":15.6,"y":4.79},{"x":14.96,"y":5.05},{"x":14.75,"y":5.15},{"x":14.96,"y":5.18},{"x":14.37,"y":5.24},{"x":14.82,"y":5.27},{"x":14.59,"y":5.49},{"x":14.96,"y":5.89},
{"x":-6.92,"y":8.62},{"x":-5.62,"y":8.67},{"x":-4.05,"y":9.69},{"x":-0.5,"y":9.19},{"x":-0.88,"y":9.55},{"x":2.65,"y":9.19},{"x":4.84,"y":8.99},{"x":5.7,"y":9.49},{"x":2.85,"y":8.67},
{"x":6.11,"y":9.37},{"x":6.59,"y":9.41},{"x":8.33,"y":9.75},{"x":8.6,"y":10.14},{"x":8.71,"y":10.16},{"x":10.31,"y":10.22},{"x":10.31,"y":10.39},{"x":10.58,"y":10.64},{"x":10.24,"y":10.85},{"x":10.2,"y":10.9},{"x":9.19,"y":10.96},{"x":11.63,"y":9.52},{"x":11.57,"y":9.69},{"x":15.11,"y":8.55},{"x":15.11,"y":8.6},{"x":15.37,"y":9.55},{"x":15.74,"y":9.66},{"x":17.6,"y":9.66},{"x":15.98,"y":10.29},{"x":19.81,"y":10.42},{"x":11.06,"y":11.92}
],
"hypo":[{"x":-0.43,"y":8.58}],
"hypoLabel":[{"x":1.75,"y":8.65,"t":"hypo"}],
"stations":[{"n":"UPSAR","x":7.97},{"n":"Pkf","x":10.47},{"n":"MM","x":20.15}],
"labDesc":[{"x":13.38,"y":5.3,"t":"2"},{"x":14.48,"y":6.86,"t":"2.2"},{"x":16.38,"y":7.97,"t":"2.3"},{"x":16.81,"y":8.77,"t":"2.4"},{"x":14.7,"y":9.05,"t":"2.5"},{"x":14.12,"y":10.02,"t":"2.6"}],
"labRise":[{"x":-4.39,"y":4.56,"t":"2.1"},{"x":4.02,"y":7.25,"t":"2.1"},{"x":-5.2,"y":6.23,"t":"2.2"},{"x":3.66,"y":8.78,"t":"2.2"},{"x":5.67,"y":9.78,"t":"2.4"}],
"labFlat":[{"x":-4.8,"y":7.85,"t":"2.3"},{"x":3.06,"y":10.32,"t":"2.5"}],
"labSteep":[{"x":5.5,"y":9.15,"t":"2.3"},{"x":10.1,"y":10.94,"t":"2.7"}],
"labTop":[{"x":1.83,"y":4.19,"t":"2"}]
},
"layer":[
{"data":{"name":"cells"},
 "mark":{"type":"rect","binSpacing":-1},
 "encoding":{
  "x":{"field":"x","type":"quantitative","bin":{"step":0.5,"anchor":-6.75,"extent":[-10,30]},
   "scale":{"domain":[-10,30],"nice":false,"zero":false},
   "axis":{"values":[-10,-5,0,5,10,15,20,25,30],"format":"~g","title":"SE\u00a0\u00a0\u00a0\u00a0\u00a0\u00a0\u00a0\u00a0along\u2212strike coordinate (km)\u00a0\u00a0\u00a0\u00a0\u00a0\u00a0\u00a0\u00a0NW","titleX":508,"titleFontSize":21,"titleFontWeight":"normal","titleColor":"#111","titlePadding":0,"titleFont":"Liberation Sans","labelFont":"Liberation Sans","labelFontSize":21,"labelColor":"#111","labelFlush":false,"labelPadding":18,"tickSize":-10,"tickColor":"#444","domainColor":"#444","domainWidth":1.3,"tickWidth":1.2,"grid":true,"gridDash":[1.5,5],"gridColor":"#8a8a8a","gridWidth":1.2}},
  "y":{"field":"y","type":"quantitative","bin":{"step":0.4,"anchor":3.9,"extent":[-2,14]},
   "scale":{"domain":[-2,14],"reverse":true,"nice":false,"zero":false},
   "axis":{"values":[-2,0,2,4,6,8,10,12,14],"format":"~g","title":"depth, km","titleFontSize":21,"titleFontWeight":"normal","titleColor":"#111","titlePadding":8,"titleFont":"Liberation Sans","labelFont":"Liberation Sans","labelFontSize":21,"labelColor":"#111","labelPadding":14,"tickSize":-10,"tickColor":"#444","domainColor":"#444","domainWidth":1.3,"tickWidth":1.2,"grid":true,"gridDash":[1.5,5],"gridColor":"#8a8a8a","gridWidth":1.2}},
  "color":{"field":"v","type":"quantitative",
   "scale":{"type":"linear","interpolate":"rgb","domain":[1.909,2.0,2.05,2.1,2.15,2.2,2.25,2.29,2.32,2.35,2.4,2.45,2.5,2.55,2.6,2.65,2.69,2.73,2.785],"range":["#2d3590","#27409a","#1f4fa3","#0d63b0","#0a85c9","#00a9e8","#00b3e5","#00b2c2","#2fb8a8","#6cc38f","#b5d55a","#f2e825","#fcc014","#f89b1f","#f47624","#ee4424","#e42228","#c11f2b","#8c2424"]},
   "legend":{"type":"gradient","orient":"none","legendX":992,"legendY":0,"direction":"vertical","gradientLength":898,"gradientThickness":88,"gradientStrokeColor":"#222","gradientStrokeWidth":1,"values":[2,2.1,2.2,2.3,2.4,2.5,2.6,2.7],"format":"~g","labelFont":"Liberation Sans","labelFontSize":21,"labelColor":"#111","labelOffset":8,"labelOverlap":false,"title":"km/s","titleOrient":"right","titleFont":"Liberation Sans","titleFontSize":21,"titleFontWeight":"normal","titleColor":"#111","titleAnchor":"middle","titleAlign":"center","titleBaseline":"top","titlePadding":10,"padding":0,"encode":{"title":{"update":{"angle":{"value":-90},"dx":{"value":14}}}}}}
 }},
{"data":{"name":"contours"},"transform":[{"filter":"datum.lev <= 2.15"}],
 "mark":{"type":"line","stroke":"#e8c3df","strokeWidth":1.3},
 "encoding":{"x":{"field":"x","type":"quantitative"},"y":{"field":"y","type":"quantitative"},"detail":{"field":"seg"}}},
{"data":{"name":"contours"},"transform":[{"filter":"datum.lev > 2.15"}],
 "mark":{"type":"line","stroke":"#f6f2ea","strokeWidth":1.3},
 "encoding":{"x":{"field":"x","type":"quantitative"},"y":{"field":"y","type":"quantitative"},"detail":{"field":"seg"}}},
{"data":{"name":"labDesc"},"mark":{"type":"text","angle":25,"fontSize":20,"font":"Liberation Sans","align":"center","baseline":"middle"},
 "encoding":{"x":{"field":"x","type":"quantitative"},"y":{"field":"y","type":"quantitative"},"text":{"field":"t"},"fill":{"condition":{"test":"datum.t=='2'||datum.t=='2.1'","value":"#ecc6e3"},"value":"#f8f5ee"}}},
{"data":{"name":"labRise"},"mark":{"type":"text","angle":-35,"fontSize":20,"font":"Liberation Sans","align":"center","baseline":"middle"},
 "encoding":{"x":{"field":"x","type":"quantitative"},"y":{"field":"y","type":"quantitative"},"text":{"field":"t"},"fill":{"condition":{"test":"datum.t=='2'||datum.t=='2.1'","value":"#ecc6e3"},"value":"#f8f5ee"}}},
{"data":{"name":"labFlat"},"mark":{"type":"text","angle":-8,"fontSize":20,"font":"Liberation Sans","align":"center","baseline":"middle"},
 "encoding":{"x":{"field":"x","type":"quantitative"},"y":{"field":"y","type":"quantitative"},"text":{"field":"t"},"fill":{"value":"#f8f5ee"}}},
{"data":{"name":"labSteep"},"mark":{"type":"text","angle":-55,"fontSize":20,"font":"Liberation Sans","align":"center","baseline":"middle"},
 "encoding":{"x":{"field":"x","type":"quantitative"},"y":{"field":"y","type":"quantitative"},"text":{"field":"t"},"fill":{"value":"#f8f5ee"}}},
{"data":{"name":"labTop"},"mark":{"type":"text","angle":55,"fontSize":20,"font":"Liberation Sans","align":"center","baseline":"middle"},
 "encoding":{"x":{"field":"x","type":"quantitative"},"y":{"field":"y","type":"quantitative"},"text":{"field":"t"},"fill":{"value":"#ecc6e3"}}},
{"data":{"name":"hypoLabel"},"mark":{"type":"text","fontSize":25,"font":"Liberation Serif","fontWeight":"bold","align":"center","baseline":"middle","color":"#1a1a1a"},
 "encoding":{"x":{"field":"x","type":"quantitative"},"y":{"field":"y","type":"quantitative"},"text":{"field":"t"}}},
{"data":{"name":"quakes"},"mark":{"type":"point","shape":"M-1,0H1M0,-1V1","size":160,"filled":false,"stroke":"#1a1a1a","strokeWidth":1.3,"opacity":1},
 "encoding":{"x":{"field":"x","type":"quantitative"},"y":{"field":"y","type":"quantitative"}}},
{"data":{"name":"hypo"},"mark":{"type":"point","shape":"M-1,0H1M0,-1V1","size":160,"filled":false,"stroke":"#2d55c9","strokeWidth":1.5,"opacity":1},
 "encoding":{"x":{"field":"x","type":"quantitative"},"y":{"field":"y","type":"quantitative"}}},
{"data":{"name":"stations"},"mark":{"type":"rule","strokeWidth":2.2},
 "encoding":{"x":{"field":"x","type":"quantitative"},"y":{"datum":2},"y2":{"datum":0.22},"stroke":{"condition":{"test":"datum.n=='Pkf'","value":"#6e5fbf"},"value":"#4f72d4"}}},
{"data":{"name":"stations"},"mark":{"type":"point","shape":"M0,-0.85L1,0.85L-1,0.85Z","size":225,"filled":true,"fill":"white","stroke":"#4f72d4","strokeWidth":1.5,"opacity":1},
 "encoding":{"x":{"field":"x","type":"quantitative"},"y":{"datum":0.114}}},
{"data":{"name":"stations"},"mark":{"type":"text","fontSize":21,"font":"Liberation Sans","align":"center","baseline":"middle","color":"#1a1a1a"},
 "encoding":{"x":{"field":"x","type":"quantitative"},"y":{"datum":2.5},"text":{"field":"n"}}}
]
}
